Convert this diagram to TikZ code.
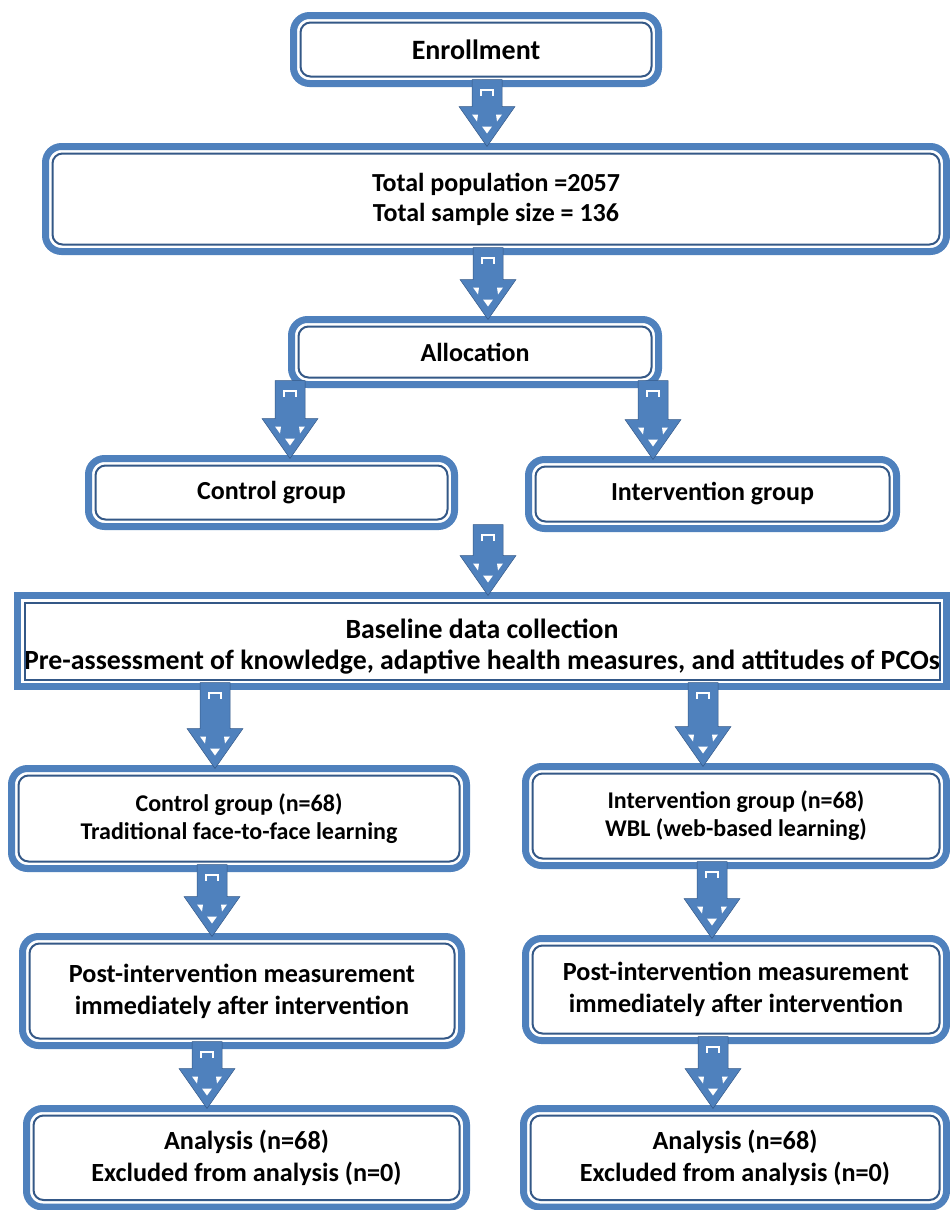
\documentclass[tikz,border=0pt]{standalone}
\usepackage{fontspec}
\setmainfont{Carlito}
\usetikzlibrary{calc}
\definecolor{boxblue}{RGB}{79,129,189}
\definecolor{linenavy}{RGB}{52,88,135}
\tikzset{
  box/.style={draw=boxblue, line width=7pt, rounded corners=16pt, fill=white, outer sep=0pt, inner sep=0pt, align=center, text=black},
  sqbox/.style={box, sharp corners},
  innerline/.style={draw=linenavy, line width=2pt},
  arrowbody/.style={fill=boxblue, draw=linenavy, line width=0.5pt, line join=miter},
  whitemark/.style={fill=white},
  fenr/.style={font=\fontsize{28}{32}\selectfont\bfseries},
  fbig/.style={font=\fontsize{26}{31}\selectfont\bfseries},
  ftot/.style={font=\fontsize{26}{30}\selectfont\bfseries},
  fbase/.style={font=\fontsize{27.8}{31}\selectfont\bfseries},
  fsmall/.style={font=\fontsize{24}{28}\selectfont\bfseries},
  fpost/.style={font=\fontsize{26.2}{32}\selectfont\bfseries},
}
\newcommand\innerbox[2][10pt]{\draw[innerline, rounded corners=#1] ($(#2.north west)+(7,-7)$) rectangle ($(#2.south east)+(-7,7)$);}
\newcommand\barrow[3]{%
  \coordinate (s) at ($(#3 |- #1.south)+(0,4)$);
  \coordinate (t) at (#3 |- #2.north);
  \filldraw[arrowbody] ($(s)+(-15,0)$) -- ($(s)+(15,0)$) -- ($(t)+(15,40)$) -- ($(t)+(28,40)$) -- (t) -- ($(t)+(-28,40)$) -- ($(t)+(-15,40)$) -- cycle;
  \draw[white, line width=2pt] ($(s)+(-6,-16)$) -- ($(s)+(-6,-10)$) -- ($(s)+(6,-10)$) -- ($(s)+(6,-16)$);
  \fill[whitemark] ($(t)+(-15,32)$) -- ($(t)+(-9,32)$) -- ($(t)+(-10,25)$) -- cycle;
  \fill[whitemark] ($(t)+(9,32)$) -- ($(t)+(15,32)$) -- ($(t)+(10,25)$) -- cycle;
  \fill[whitemark] ($(t)+(-5,20)$) -- ($(t)+(5,20)$) -- ($(t)+(0,13)$) -- cycle;
}
\begin{document}
\begin{tikzpicture}[x=1pt,y=1pt]
\useasboundingbox (0,0) rectangle (950,-1210);
\fill[white] (0,0) rectangle (950,-1210);
\clip (0,0) rectangle (950,-1210);

% boxes
\node[box, fenr, minimum width=365pt, minimum height=68pt] (enr) at (476,-49.5) {Enrollment};
\node[box, ftot, minimum width=901pt, minimum height=105pt] (tot) at (496,-199) {Total population =2057\\Total sample size = 136};
\node[box, fbig, minimum width=367pt, minimum height=65pt] (alloc) at (475,-352) {Allocation};
\node[box, fbig, minimum width=366pt, minimum height=68pt] (ctrl) at (271.5,-492.5) {Control group};
\node[box, fbig, minimum width=368pt, minimum height=69pt] (intv) at (712.5,-494) {Intervention group};
\node[sqbox, fbase, minimum width=929pt, minimum height=91pt] (base) at (482,-641) {\rule{0pt}{31pt}Baseline data collection\\Pre-assessment of knowledge, adaptive health measures, and attitudes of PCOs};
\node[box, fsmall, minimum width=455pt, minimum height=100pt] (c68) at (239,-818.5) {Control group (n=68)\\Traditional face-to-face learning};
\node[box, fsmall, minimum width=421pt, minimum height=99pt] (i68) at (736,-816) {Intervention group (n=68)\\WBL (web-based learning)};
\node[box, fpost, minimum width=439pt, minimum height=109pt] (postL) at (242,-991) {Post-intervention measurement\\immediately after intervention};
\node[box, fpost, minimum width=421pt, minimum height=102pt] (postR) at (736,-989.5) {Post-intervention measurement\\immediately after intervention};
\node[box, fpost, minimum width=440pt, minimum height=98.5pt] (anlL) at (246.5,-1157.75) {Analysis (n=68)\\Excluded from analysis (n=0)};
\node[box, fpost, minimum width=423pt, minimum height=98.5pt] (anlR) at (735,-1157.75) {Analysis (n=68)\\Excluded from analysis (n=0)};

\innerbox{enr}
\innerbox{tot}
\innerbox{alloc}
\innerbox{ctrl}
\innerbox{intv}
\innerbox[0pt]{base}
\innerbox{c68}
\innerbox{i68}
\innerbox{postL}
\innerbox{postR}
\innerbox{anlL}
\innerbox{anlR}

% x references for arrows
\coordinate (xa) at (487,0);
\coordinate (xb) at (488,0);
\coordinate (xc) at (290,0);
\coordinate (xd) at (653,0);
\coordinate (xe) at (488,0);
\coordinate (xf) at (215,0);
\coordinate (xg) at (703,0);
\coordinate (xh) at (212,0);
\coordinate (xi) at (712,0);
\coordinate (xj) at (207,0);
\coordinate (xk) at (713,0);

\barrow{enr}{tot}{xa}
\barrow{tot}{alloc}{xb}
\barrow{alloc}{ctrl}{xc}
\barrow{alloc}{intv}{xd}
\barrow{intv}{base}{xe}
\barrow{base}{c68}{xf}
\barrow{base}{i68}{xg}
\barrow{c68}{postL}{xh}
\barrow{i68}{postR}{xi}
\barrow{postL}{anlL}{xj}
\barrow{postR}{anlR}{xk}
\end{tikzpicture}
\end{document}
